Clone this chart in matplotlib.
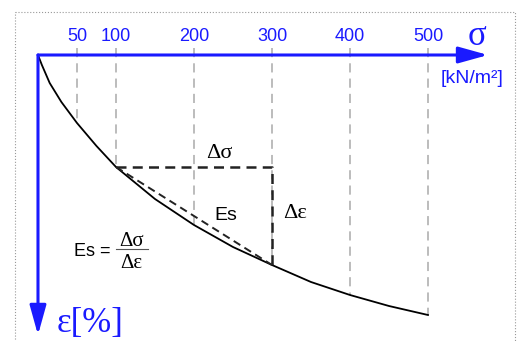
import numpy as np
import matplotlib.pyplot as plt
from matplotlib.patches import Rectangle

sigma = np.array([0, 5, 15, 30, 50, 75, 100, 150, 200, 250, 300, 350, 400, 450, 500])
eps = np.array([0, 0.10, 0.28, 0.47, 0.68, 0.91, 1.12, 1.44, 1.70, 1.92, 2.10, 2.27, 2.40, 2.51, 2.60])

ticks = [50, 100, 200, 300, 400, 500]
tick_labels = ["50", "100", "200", "300", "400", "500"]

# Triangulo del modulo secante
s1, s2 = 100, 300
e1 = np.interp(s1, sigma, eps)
e2 = np.interp(s2, sigma, eps)

blue = "#1a1aff"

fig = plt.figure(figsize=(5.17, 3.41), dpi=100)
ax = fig.add_axes([0, 0, 1, 1])
ax.set_xlim(-48.7, 614.1)
ax.set_ylim(2.86, -0.55)
ax.axis("off")

# Borde punteado
ax.add_patch(Rectangle((-29.5, -0.43), 641, 3.6, fill=False, ls=":", lw=0.8,
                       ec="#999999", clip_on=True))

# Lineas verticales de referencia
for t in ticks:
    ax.plot([t, t], [-0.07, np.interp(t, sigma, eps)], color="#aaaaaa",
            ls=(0, (6, 4)), lw=1.1, zorder=1)

# Curva
ax.plot(sigma, eps, color="black", lw=1.3, zorder=3)

# Triangulo
ax.plot([s1, s2, s2], [e1, e1, e2], color="#222222", ls=(0, (4, 2.5)), lw=1.8, zorder=3)
ax.plot([s1, s2], [e1, e2], color="#222222", ls=(0, (4, 2.5)), lw=1.4, zorder=3)

# Ejes con flecha
flecha = dict(arrowstyle="-|>,head_length=1.8,head_width=0.5",
              color=blue, lw=2.2, shrinkA=0, shrinkB=0)
ax.annotate("", xy=(577, 0), xytext=(0, 0), arrowprops=flecha, zorder=4)
ax.annotate("", xy=(0, 2.80), xytext=(0, 0), arrowprops=flecha, zorder=4)

for t, lab in zip(ticks, tick_labels):
    ax.text(t, -0.19, lab, color=blue, fontsize=13, ha="center", va="center",
            family="Liberation Sans")

ax.text(563, -0.19, "σ", color=blue, fontsize=25, ha="center", va="center",
        family="Liberation Serif")
ax.text(556, 0.23, "[kN/m²]", color=blue, fontsize=14, ha="center", va="center",
        family="Liberation Sans")
ax.text(24, 2.68, "ε[%]", color=blue, fontsize=25, ha="left", va="center",
        family="Liberation Serif")

# Etiquetas
ax.text(232, 0.98, "Δσ", fontsize=16, ha="center", va="center", family="Liberation Serif")
ax.text(241, 1.60, "Es", fontsize=14, ha="center", va="center", family="Liberation Sans")
ax.text(329, 1.58, "Δε", fontsize=16, ha="center", va="center", family="Liberation Serif")
ax.text(46, 1.96, "Es =", fontsize=13, ha="left", va="center", family="Liberation Sans")
ax.text(120, 1.86, "Δσ", fontsize=15, ha="center", va="center", family="Liberation Serif")
ax.text(120, 2.08, "Δε", fontsize=15, ha="center", va="center", family="Liberation Serif")
ax.plot([100, 141], [1.94, 1.94], color="#555555", lw=0.8)

plt.savefig("out.png", dpi=100)
